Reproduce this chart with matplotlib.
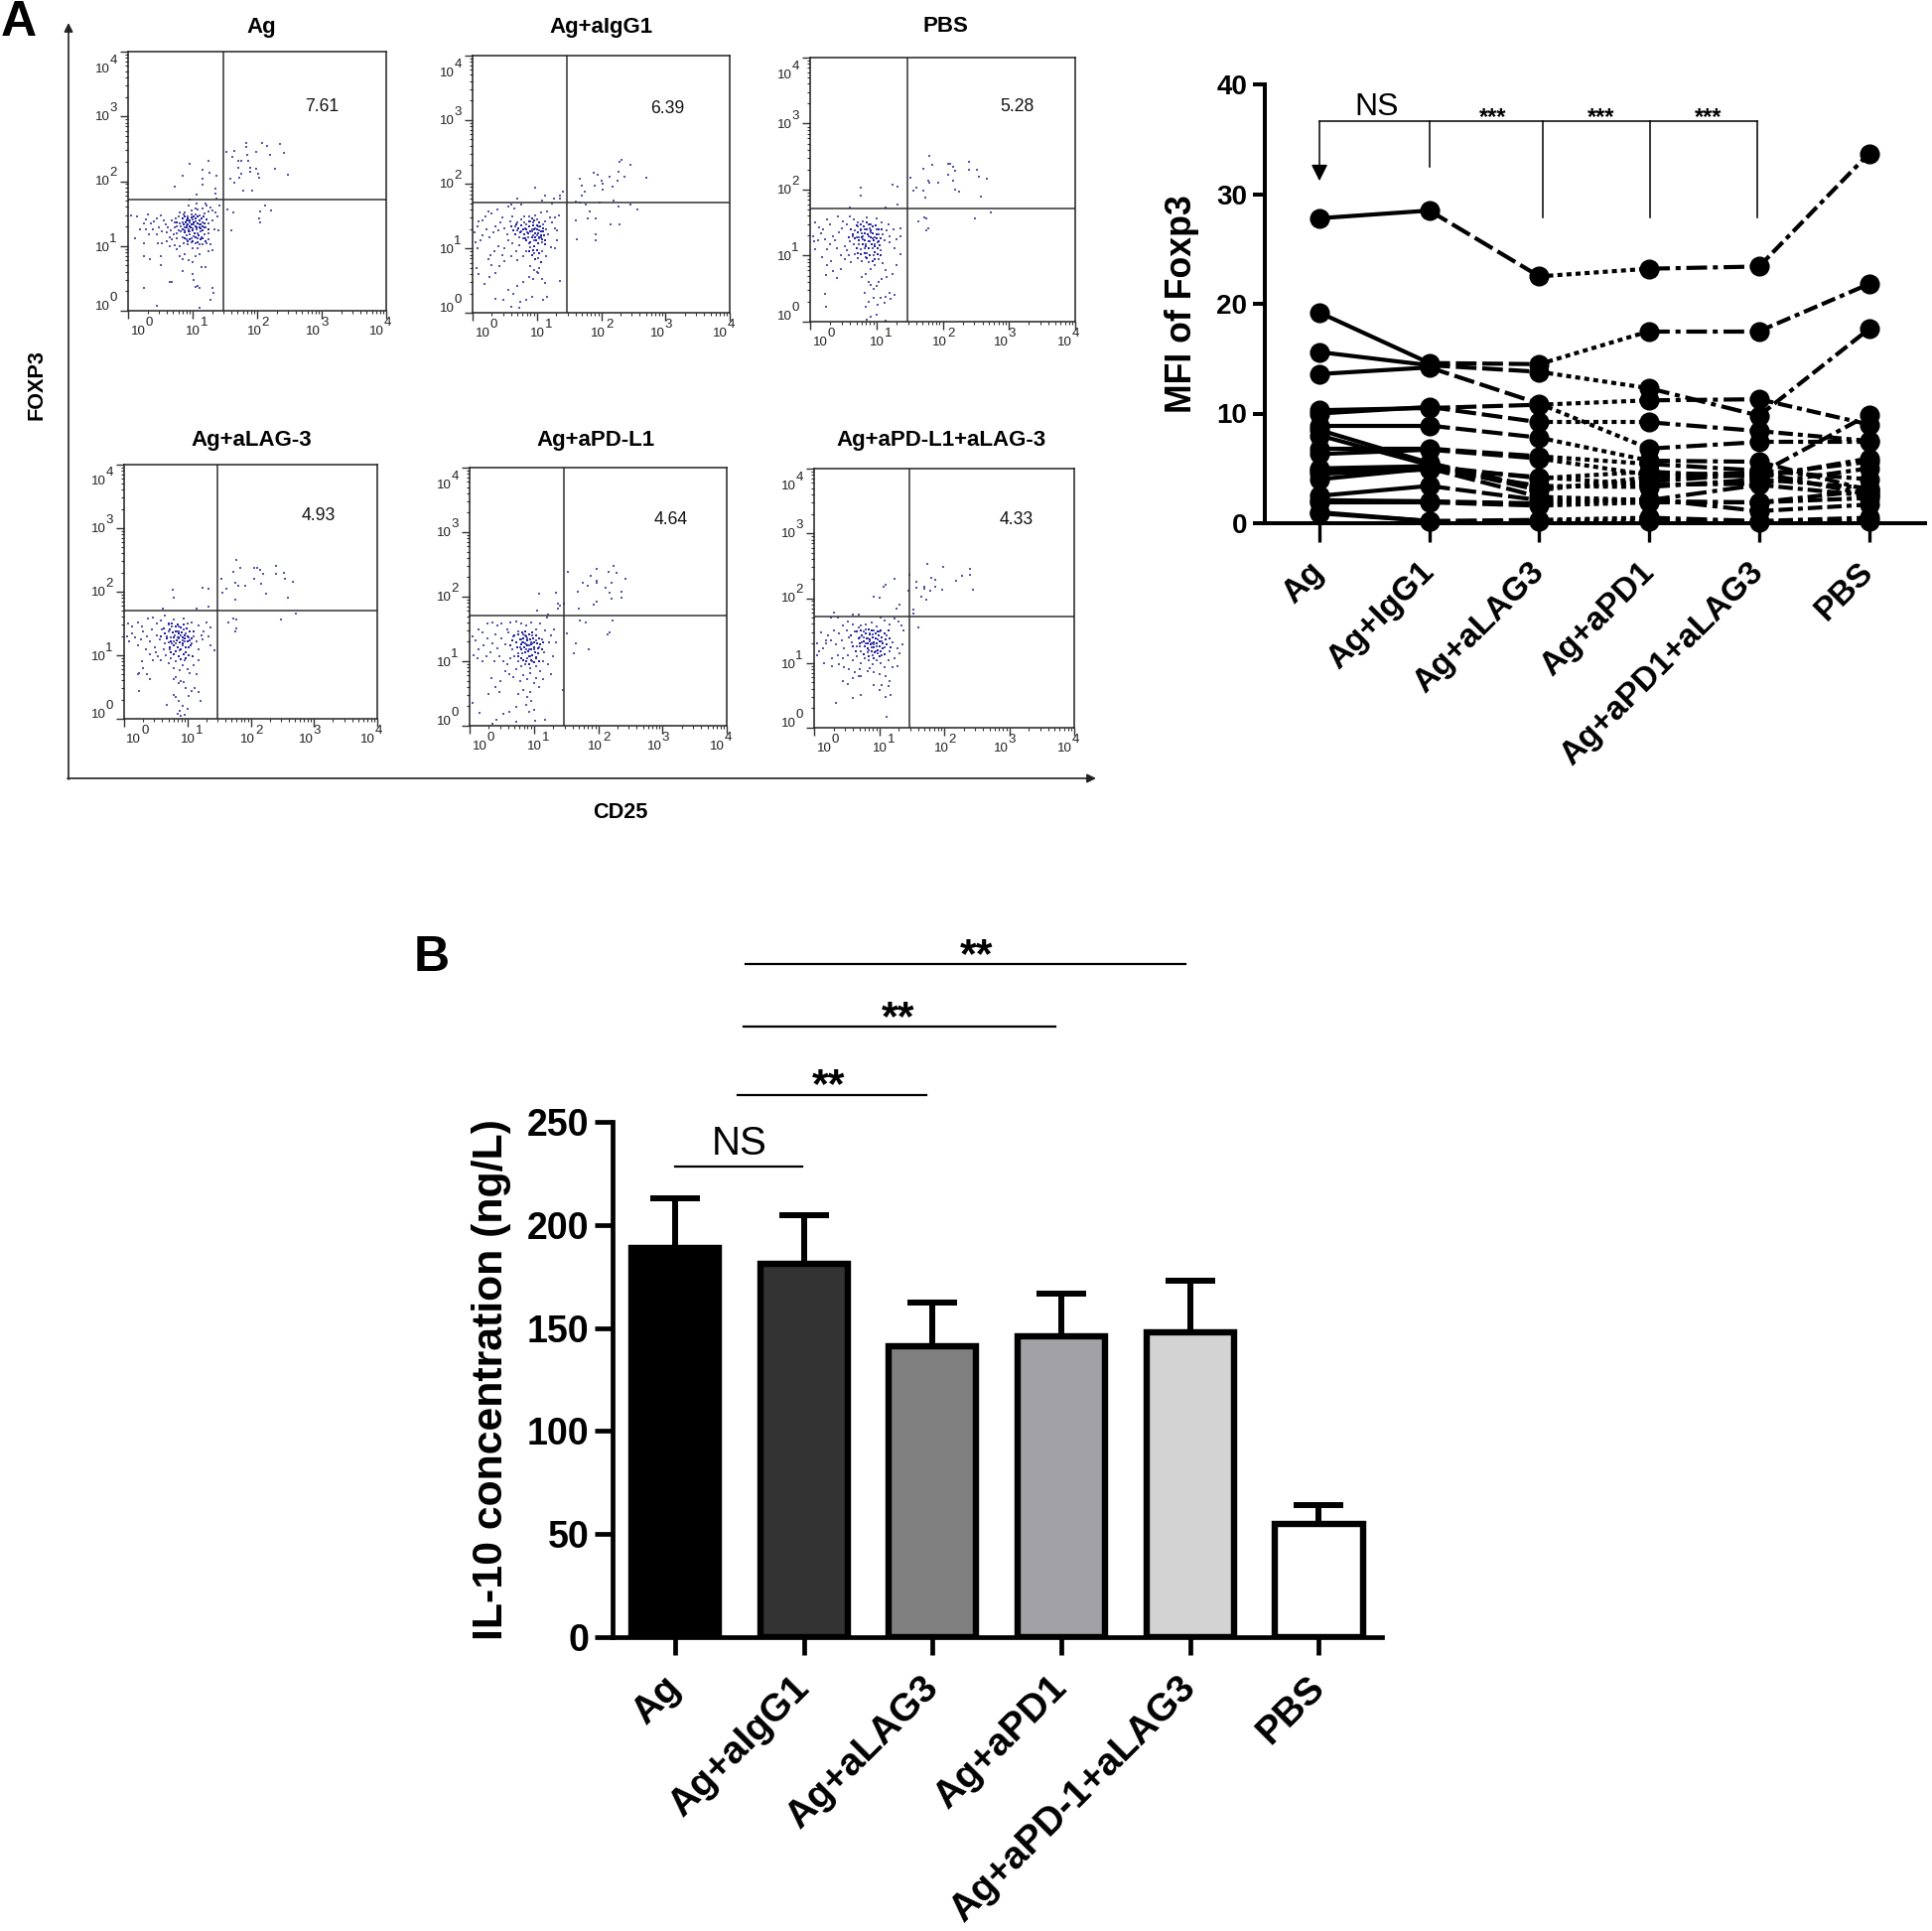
import numpy as np
import matplotlib
matplotlib.use('Agg')
import matplotlib.pyplot as plt
from matplotlib.ticker import LogLocator, NullFormatter
from matplotlib.transforms import ScaledTranslation

plt.rcParams['font.family'] = ['Liberation Sans', 'DejaVu Sans']

W, H = 1946, 1945

# --- panel A, flow plots: title, gate percentage, events as (log10 CD25, log10 FOXP3) * 100
flow_titles = ['Ag', 'Ag+aIgG1', 'PBS', 'Ag+aLAG-3', 'Ag+aPD-L1', 'Ag+aPD-L1+aLAG-3']
flow_percent = ['7.61', '6.39', '5.28', '4.93', '4.64', '4.33']
gate_x = 147
gate_y = 171

ag_points = [
    (153,245),(165,247),(183,259),(207,259),(235,257),(242,244),(216,254),(183,253),(199,245),(162,237),
    (184,240),(220,240),(171,232),(175,231),(186,231),(189,220),(199,219),(201,212),(189,214),(175,212),
    (171,221),(228,219),(248,210),(159,204),(173,205),(165,197),(179,186),(192,186),(203,205),
    (204,154),(213,162),(222,155),(203,143),(205,136),(160,124),(154,157),(163,152),
    (96,227),(125,231),(85,208),(115,218),(126,213),(137,208),(115,204),(115,194),(73,191),(106,180),(135,188),(135,181),(96,171),(137,173),
    (5,147),(14,145),(24,135),(27,141),(30,148),(35,135),(40,138),(44,143),(50,147),(55,139),(58,133),(62,128),
    (47,128),(38,125),(28,125),(18,125),(10,112),(32,118),(45,118),(52,122),(60,121),(66,124),(72,128),(76,131),
    (80,135),(85,137),(90,132),(95,136),(100,141),(105,138),(110,133),(115,137),(120,129),(125,135),(130,140),
    (68,140),(74,143),(78,146),(84,143),(92,146),(98,148),(104,149),(110,147),(118,150),(124,154),(130,155),
    (136,152),(80,152),(88,152),(98,155),(108,156),(116,158),(122,162),(128,160),(94,162),(106,165),(120,166),
    (138,146),(142,162),(64,114),(70,118),(76,120),(82,122),(88,124),(94,126),(100,127),(106,126),(112,122),
    (118,118),(124,120),(134,125),(140,124),(60,108),(68,110),(76,112),(84,113),(90,116),(96,118),(102,115),
    (108,112),(114,114),(124,110),(86,104),(92,102),(98,105),(104,104),(110,103),(116,102),(122,104),(128,103),
    (46,104),(52,104),(64,100),(72,101),(80,99),(100,96),(108,97),(124,92),(130,94),(25,104),(24,84),(34,80),
    (50,85),(51,70),(76,95),(80,85),(84,80),(88,88),(94,78),(100,75),(105,84),(110,88),(114,67),(120,67),(84,62),
    (68,45),(100,57),(102,48),(104,37),(110,35),(107,39),(65,44),(24,36),(44,8),(130,35),(132,28),(128,17),(111,4),
    (88,128),(92,140),(86,148),(102,134),(96,122),(82,130),(90,110),(98,112),(108,120),(78,124),(72,136),(104,158),
]
ag_core = [
    (84,142),(87,145),(90,139),(93,143),(96,140),(99,144),(102,146),(105,142),(108,145),(111,140),(114,143),(117,146),
    (86,133),(89,136),(92,134),(95,131),(98,134),(101,137),(104,131),(107,135),(110,129),(113,134),(116,131),(119,135),
    (85,126),(88,121),(91,128),(94,123),(97,129),(100,124),(103,119),(106,129),(109,117),(112,127),(115,124),(118,128),
    (88,112),(92,107),(96,110),(100,108),(104,113),(108,106),(112,110),(116,112),(120,107),(122,141),(124,126),(76,136),
]
igg_points = [
    (167,209),(170,198),(174,189),(188,218),(194,214),(190,198),(201,206),(203,200),(213,211),(203,192),(227,220),
    (225,206),(236,211),(232,238),(228,235),(245,230),(270,210),(217,196),(170,183),(160,173),(167,172),
    (176,168),(198,172),(219,175),(183,158),(179,147),(191,147),(215,138),(229,138),(227,165),(245,169),(257,160),
    (162,115),(191,122),(191,113),(160,144),
    (98,194),(70,177),(112,183),(126,177),(136,178),(141,189),(136,183),(60,169),(108,175),(124,170),
    (3,125),(8,135),(10,142),(15,143),(20,150),(24,158),(30,155),(38,160),(46,148),(55,165),(65,162),(75,168),
    (4,110),(8,100),(13,112),(16,120),(22,130),(26,118),(32,125),(36,135),(40,128),(44,140),(50,132),(54,122),
    (58,142),(62,150),(66,135),(70,128),(72,118),(76,145),(80,140),(82,132),(85,125),(88,150),(90,142),(92,130),
    (94,120),(96,112),(98,152),(100,145),(102,135),(104,128),(106,118),(108,110),(110,138),(114,130),(118,122),
    (120,148),(124,140),(128,132),(132,128),(134,152),(128,148),(116,158),(106,156),(78,116),(72,105),(68,96),
    (62,108),(56,112),(50,100),(46,90),(40,104),(34,96),(28,90),(24,84),(30,74),(36,62),(26,56),(42,72),(50,80),
    (60,88),(70,82),(78,88),(84,95),(90,102),(96,92),(102,85),(108,96),(114,88),(122,102),(128,100),(132,112),
    (90,72),(96,66),(100,64),(102,62),(104,70),(88,56),(94,52),(108,52),(112,47),(78,48),(70,42),(64,30),(56,36),
    (36,22),(48,20),(60,10),(72,8),(74,17),(84,20),(92,25),(110,20),(116,24),(136,50),(6,70),(10,60),(18,45),
    (86,118),(92,126),(98,132),(84,138),(100,120),(76,126),(88,108),(104,116),(94,140),(80,150),(70,140),(112,142),
]
igg_core = [
    (60,134),(64,128),(66,122),(68,138),(71,131),(74,125),(76,136),(78,129),(80,122),(82,116),(84,130),(86,124),
    (88,134),(90,126),(92,118),(94,136),(96,130),(97,124),(98,118),(99,112),(100,136),(101,130),(102,124),(103,118),
    (104,140),(105,134),(106,126),(107,120),(108,114),(109,132),(110,126),(111,120),(112,112),(113,106),(96,144),(92,146),
    (88,142),(84,112),(90,110),(96,104),(102,108),(100,98),(94,98),(104,92),(98,84),(106,78),(92,90),(88,96),
]
pbs_points = [
    (152,218),(180,251),(185,238),(171,231),(161,203),(156,198),(178,214),(180,210),(193,210),(171,198),(174,188),
    (208,239),(211,239),(216,235),(219,229),(208,222),(216,214),(218,200),(225,197),(240,242),(240,230),(252,230),
    (254,220),(266,216),(258,189),(164,152),(173,158),(176,157),(178,142),(176,138),(248,157),(272,166),
    (77,203),(77,191),(124,207),(132,204),(132,177),(114,173),(60,173),
    (8,150),(14,143),(20,140),(26,155),(30,147),(42,160),(50,152),(56,148),(60,160),(66,155),(72,150),(80,152),(86,158),
    (92,148),(100,156),(108,150),(118,148),(126,140),(136,142),(136,130),(130,125),(120,120),(128,112),(136,102),
    (4,130),(6,122),(8,110),(12,124),(16,134),(22,125),(26,110),(30,118),(34,130),(38,124),(44,136),(48,142),
    (52,115),(56,108),(60,122),(64,130),(68,138),(70,128),(72,145),(74,118),(76,110),(78,134),(80,125),(82,140),
    (84,118),(86,104),(88,130),(90,122),(92,135),(94,112),(96,100),(98,128),(100,140),(102,120),(106,108),(110,132),
    (112,124),(116,138),(120,130),(40,112),(46,100),(52,95),(58,100),(62,90),(68,102),(72,96),(78,92),(84,98),
    (88,90),(92,80),(98,86),(104,94),(110,88),(114,78),(116,68),(124,72),(130,85),(32,92),(26,86),(18,98),(24,70),
    (34,76),(40,66),(46,80),(84,72),(88,60),(92,55),(96,50),(100,54),(104,60),(108,65),(78,68),(82,44),(88,30),
    (84,22),(96,36),(106,36),(114,38),(122,34),(120,44),(128,40),(112,28),(102,25),(100,10),(92,8),(86,3),(114,2),
    (22,42),(24,22),(80,130),(90,142),(76,138),(94,126),(82,112),(98,118),(66,118),(74,128),(88,148),(104,132),
]
pbs_core = [
    (62,140),(65,132),(68,126),(70,146),(72,136),(74,124),(76,148),(77,140),(78,128),(79,118),(81,144),(82,134),
    (83,124),(84,114),(85,150),(86,140),(87,132),(88,122),(89,112),(90,148),(91,138),(92,128),(93,118),(94,144),
    (95,134),(96,124),(97,114),(98,106),(99,146),(100,132),(101,126),(102,112),(103,140),(104,122),(105,116),(106,100),
    (70,112),(72,104),(76,102),(82,104),(86,96),(90,100),(94,92),(98,94),(102,102),(106,126),(108,140),(58,128),
]
lag_points = [
    (154,220),(178,250),(184,237),(173,231),(161,204),(156,199),(176,214),(180,209),(192,209),(175,188),(206,238),
    (210,237),(215,234),(219,228),(206,221),(217,213),(224,197),(240,241),(240,228),(252,230),(254,220),(267,216),(259,190),
    (164,152),(173,158),(178,156),(178,142),(176,138),(248,156),(271,165),
    (77,203),(78,190),(124,207),(133,205),(133,177),(115,173),(61,174),
    (6,150),(12,145),(22,152),(28,146),(38,158),(46,160),(52,150),(58,155),(64,162),(70,148),(78,156),(86,146),
    (94,158),(100,150),(106,152),(118,147),(130,152),(136,144),(126,138),(134,130),(124,125),(136,115),(142,108),
    (4,130),(8,122),(12,135),(18,128),(22,115),(26,125),(30,138),(36,130),(40,122),(44,140),(48,112),(52,132),
    (56,125),(60,140),(64,118),(68,130),(70,138),(72,110),(74,128),(76,145),(78,122),(80,132),(82,118),(84,138),
    (86,126),(88,108),(90,132),(92,115),(94,140),(96,122),(98,135),(102,128),(106,118),(110,130),(114,122),(118,110),
    (122,132),(34,110),(40,102),(46,92),(50,105),(54,98),(58,92),(62,110),(66,100),(70,88),(74,96),(78,80),(82,90),
    (88,76),(92,84),(96,92),(100,78),(104,72),(110,85),(114,70),(118,92),(28,90),(24,72),(30,80),(36,70),(40,62),
    (78,62),(82,66),(86,56),(90,60),(94,58),(98,48),(102,36),(106,44),(112,48),(118,42),(120,28),(78,38),(82,34),
    (86,28),(92,20),(100,15),(88,12),(84,8),(90,5),(96,6),(68,22),(24,43),(22,70),(76,118),(84,128),(92,124),(70,120),(86,138),
]
lag_core = [
    (62,142),(65,135),(68,126),(70,150),(72,140),(74,122),(76,150),(77,136),(78,128),(79,116),(81,146),(82,138),
    (83,124),(84,112),(85,148),(86,134),(87,128),(88,120),(89,110),(90,144),(91,136),(92,128),(93,118),(94,148),
    (95,132),(96,126),(97,112),(98,104),(99,142),(100,130),(101,122),(102,112),(103,138),(104,124),(105,116),(108,98),
    (72,112),(74,104),(78,102),(82,106),(86,98),(90,94),(94,102),(98,96),(102,100),(106,126),(110,138),(58,130),
]
pdl1_points = [
    (153,238),(188,233),(197,243),(176,222),(184,217),(169,207),(198,224),(198,222),(212,214),(216,239),(224,248),(228,237),
    (221,222),(217,206),(221,197),(236,207),(236,198),(243,228),(193,188),(198,192),(170,182),
    (172,163),(181,160),(222,163),(217,144),(215,141),(152,143),(166,127),(162,113),(186,119),(145,56),
    (108,205),(134,206),(138,190),(140,186),(138,181),(147,190),(105,179),(122,173),(121,168),
    (14,150),(20,145),(28,158),(36,160),(44,155),(50,158),(58,150),(64,160),(72,162),(80,158),(88,155),(96,160),(104,150),
    (110,158),(118,148),(126,140),(132,150),(134,130),(124,130),(4,138),(10,132),(14,118),(22,125),(28,135),(36,128),
    (40,142),(44,120),(50,136),(56,126),(60,144),(66,118),(68,138),(72,130),(76,146),(78,122),(80,134),(82,112),
    (84,142),(86,128),(88,118),(90,136),(92,124),(94,108),(96,130),(98,140),(100,118),(104,132),(108,122),(112,134),
    (116,114),(6,110),(12,104),(20,100),(26,108),(32,114),(38,100),(46,108),(52,100),(58,96),(64,104),(70,108),
    (76,100),(80,92),(86,96),(90,104),(94,90),(98,100),(104,92),(110,84),(114,100),(122,95),(126,80),(130,108),
    (56,85),(62,80),(68,76),(72,88),(78,70),(84,78),(90,72),(94,82),(100,66),(104,74),(108,60),(114,72),(48,70),
    (40,60),(46,52),(34,74),(30,50),(76,50),(84,56),(90,45),(94,52),(96,38),(88,32),(92,22),(72,30),(62,22),(52,18),
    (42,10),(36,3),(4,36),(16,20),(72,6),(100,25),(102,8),(118,10),(88,126),(82,130),(92,118),(76,112),(98,128),(86,140),
]
pdl1_core = [
    (70,140),(72,130),(74,122),(76,142),(78,134),(80,126),(81,118),(82,144),(83,136),(84,130),(85,122),(86,114),
    (87,146),(88,138),(89,132),(90,124),(91,116),(92,108),(93,142),(94,134),(95,126),(96,118),(97,110),(98,144),
    (99,136),(100,130),(101,122),(102,114),(103,106),(104,140),(105,128),(106,120),(107,112),(108,136),(110,126),(112,118),
    (76,108),(80,104),(84,102),(88,100),(92,96),(96,102),(100,98),(104,104),(108,100),(66,132),(64,124),(114,130),
]
both_points = [
    (174,253),(199,248),(180,231),(187,229),(157,225),(157,216),(169,218),(169,215),(179,211),(187,217),(197,213),(218,227),
    (228,235),(239,245),(239,236),(244,213),(165,203),(173,197),
    (124,230),(110,220),(107,217),(91,203),(101,201),(145,211),(146,236),(131,190),(127,184),(152,182),(152,176),(161,155),
    (10,147),(18,135),(26,170),(30,178),(36,170),(44,158),(52,164),(60,174),(68,174),(60,160),(72,158),(80,160),(88,162),(96,156),
    (102,170),(108,166),(116,160),(124,168),(130,164),(134,158),(138,150),(4,130),(8,118),(14,122),(18,130),(22,142),(26,135),
    (30,150),(34,128),(38,145),(42,135),(46,122),(50,150),(54,140),(58,132),(62,148),(66,125),(68,155),(70,140),(72,118),
    (74,132),(76,148),(78,125),(80,152),(82,138),(84,120),(86,145),(88,130),(90,112),(92,150),(94,138),(96,125),(98,115),
    (100,148),(104,134),(108,124),(112,142),(116,118),(120,132),(124,108),(128,122),(132,115),(136,128),(28,108),(36,112),
    (44,108),(52,112),(60,104),(66,110),(72,100),(78,108),(84,104),(90,98),(96,104),(102,100),(108,94),(114,104),(120,94),
    (4,112),(16,100),(28,95),(38,98),(46,94),(54,90),(62,86),(68,80),(70,90),(44,72),(52,68),(60,76),(82,88),(86,92),
    (92,86),(100,82),(110,80),(116,72),(128,95),(100,58),(104,66),(92,66),(114,64),(118,50),(110,48),(72,50),(60,46),(34,38),(72,80),
    (111,17),(88,124),(94,118),(80,130),(86,134),(76,140),(92,128),(98,136),(70,126),(82,116),(104,112),(90,144),
]
both_core = [
    (66,148),(68,138),(70,130),(72,150),(74,142),(76,134),(78,126),(80,146),(81,138),(82,130),(83,122),(84,152),
    (85,144),(86,136),(87,128),(88,118),(89,150),(90,140),(91,132),(92,124),(93,116),(94,146),(95,138),(96,130),
    (97,120),(98,148),(99,142),(100,134),(101,126),(102,118),(103,150),(104,140),(105,130),(106,122),(108,146),(110,136),
    (112,128),(114,150),(116,138),(118,124),(56,142),(60,126),(64,118),(76,114),(84,110),(92,108),(100,110),(108,114),
]
flow_points = [ag_points, igg_points, pbs_points, lag_points, pdl1_points, both_points]
flow_core = [ag_core, igg_core, pbs_core, lag_core, pdl1_core, both_core]
flow_ticks = [0, 1, 2, 3, 4]

# --- panel A right, MFI of Foxp3, one row per donor
mfi_groups = ['Ag', 'Ag+IgG1', 'Ag+aLAG3', 'Ag+aPD1', 'Ag+aPD1+aLAG3', 'PBS']
mfi_values = [
    [27.8, 28.5, 22.5, 23.2, 23.4, 33.7],
    [19.2, 14.6, 14.5, 17.5, 17.5, 21.8],
    [15.6, 14.4, 13.8, 12.3, 9.8, 17.7],
    [13.6, 14.2, 10.9, 6.8, 7.4, 7.4],
    [10.3, 10.5, 10.8, 11.2, 11.3, 9.0],
    [10.0, 10.6, 9.2, 9.2, 8.4, 7.5],
    [8.9, 8.9, 7.8, 5.7, 5.6, 3.0],
    [8.5, 5.5, 3.2, 3.8, 4.5, 9.9],
    [8.0, 5.3, 3.0, 4.2, 4.4, 5.6],
    [6.8, 6.8, 6.1, 5.4, 4.8, 4.0],
    [6.3, 6.7, 5.9, 4.4, 4.6, 2.6],
    [5.0, 5.2, 4.1, 4.7, 4.2, 5.9],
    [4.8, 5.0, 2.4, 2.1, 3.5, 2.5],
    [4.0, 5.0, 4.2, 3.5, 3.6, 5.0],
    [4.5, 4.9, 3.4, 3.3, 4.0, 3.2],
    [2.5, 3.4, 2.1, 2.0, 1.9, 3.0],
    [2.1, 2.0, 1.8, 2.2, 1.1, 1.7],
    [1.9, 1.9, 1.6, 1.9, 1.9, 2.3],
    [1.0, 0.2, 0.3, 0.5, 0.2, 0.5],
    [0.9, 0.2, 0.2, 0.2, 0.1, 0.2],
]
mfi_ticks = [0, 10, 20, 30, 40]

# --- panel B
il10_groups = ['Ag', 'Ag+aIgG1', 'Ag+aLAG3', 'Ag+aPD1', 'Ag+aPD-1+aLAG3', 'PBS']
il10_mean = [189, 181, 141, 146, 148, 55]
il10_err = [24, 23.5, 21.5, 20.5, 25, 9]
il10_colors = ['#000000', '#333333', '#808080', '#a1a1a6', '#d3d3d3', '#ffffff']
il10_ticks = [0, 50, 100, 150, 200, 250]

fig = plt.figure(figsize=(W / 100, H / 100), dpi=100)


def new_axes(left, right, top, bottom):
    return fig.add_axes([left / W, 1 - bottom / H, (right - left) / W, (bottom - top) / H])


def fig_text(x, y, s, **kw):
    fig.text(x / W, 1 - y / H, s, ha=kw.pop('ha', 'center'), va=kw.pop('va', 'center'), **kw)


# flow plots, box edges in pixels
flow_boxes = [(129, 389, 52, 313), (476, 735, 56, 315), (816, 1083, 58, 324),
              (125, 380, 468, 724), (473, 732, 471, 731), (820, 1082, 472, 733)]
title_pos = [(263, 28), (605, 27), (952, 27), (253, 444), (600, 444), (948, 444)]
pct_pos = [(324, 108), (672, 110), (1024, 108), (321, 520), (676, 523), (1024, 523)]
lab_x = [0.054, 0.268, 0.504, 0.734, 0.977]
lab_y = [0.017, 0.243, 0.497, 0.746, 0.932]

for i, box in enumerate(flow_boxes):
    ax = new_axes(*box)
    pts = np.array(flow_points[i]) / 100
    core = np.array(flow_core[i]) / 100
    ax.scatter(10 ** pts[:, 0], 10 ** pts[:, 1], s=1.8, marker='s', color='#5656ac', linewidths=0)
    ax.scatter(10 ** core[:, 0], 10 ** core[:, 1], s=2.4, marker='s', color='#2424a6', linewidths=0)
    ax.set_xscale('log')
    ax.set_yscale('log')
    ax.set_xlim(1, 1e4)
    ax.set_ylim(1, 1e4)
    ax.axvline(10 ** (gate_x / 100), color='#333333', lw=1.1)
    ax.axhline(10 ** (gate_y / 100), color='#333333', lw=1.1)
    for sp in ax.spines.values():
        sp.set_linewidth(1.1)
        sp.set_color('#222222')
    for axis in (ax.xaxis, ax.yaxis):
        axis.set_major_locator(LogLocator(base=10, numticks=6))
        axis.set_minor_locator(LogLocator(base=10, subs=range(2, 10), numticks=6))
        axis.set_minor_formatter(NullFormatter())
    ax.tick_params(which='major', length=5.5, width=1, color='#333333', labelbottom=False, labelleft=False)
    ax.tick_params(which='minor', length=2.5, width=0.8, color='#333333')
    w = box[1] - box[0]
    h = box[3] - box[2]
    for t, fx, fy in zip(flow_ticks, lab_x, lab_y):
        # decade labels sit off their ticks in the original
        px = box[0] + fx * w
        fig_text(px - 4, box[3] + 21, '10', fontsize=9.5, color='#222222')
        fig_text(px + 7, box[3] + 12, str(t), fontsize=9.5, color='#222222')
        py = box[3] - fy * h
        fig_text(box[0] - 26, py, '10', fontsize=9.5, color='#222222')
        fig_text(box[0] - 15, py - 9, str(t), fontsize=9.5, color='#222222')
    fig_text(*title_pos[i], flow_titles[i], fontsize=16, fontweight='bold')
    fig_text(*pct_pos[i], flow_percent[i], fontsize=12.7, color='#111111')

# big axis arrows round the flow plots
overlay = fig.add_axes([0, 0, 1, 1], facecolor='none')
overlay.set_xlim(0, W)
overlay.set_ylim(H, 0)
overlay.axis('off')
arrow_kw = dict(arrowstyle='-|>', mutation_scale=13, shrinkA=0, shrinkB=0, color='#222222', lw=1.2)
overlay.annotate('', xy=(69, 23), xytext=(69, 785), arrowprops=arrow_kw)
overlay.annotate('', xy=(1104, 784), xytext=(68, 784), arrowprops=arrow_kw)
fig_text(37, 388, 'FOXP3', rotation=90, fontsize=15.6, fontweight='bold')
fig_text(625, 819, 'CD25', fontsize=15.6, fontweight='bold')
fig_text(19, 23, 'A', fontsize=36, fontweight='bold')
fig_text(435, 965, 'B', fontsize=36, fontweight='bold')

# MFI paired plot
ax = new_axes(1274, 1939, 85, 527)
seg_styles = ['-', (0, (5, 1.4)), (0, (1.2, 1)), (0, (5, 1.4, 1.2, 1.4)), (0, (3.5, 1.2, 3.5, 1.2, 1.2, 1.2))]
xs = np.arange(len(mfi_groups))
for row in mfi_values:
    for k, style in enumerate(seg_styles):
        ax.plot(xs[k:k + 2], row[k:k + 2], color='black', lw=3, ls=style, clip_on=False, zorder=2)
    ax.plot(xs, row, ls='none', marker='o', ms=13.5, color='black', clip_on=False, zorder=3)
ax.set_xlim(-0.497, 5.51)
ax.set_ylim(0, 40)
ax.set_yticks(mfi_ticks)
ax.set_xticks(xs)
ax.set_xticklabels(mfi_groups, rotation=45, ha='right', va='center', rotation_mode='anchor',
                   fontsize=24, fontweight='bold')
shift = ScaledTranslation(6 / 100, 0, fig.dpi_scale_trans)
for lab in ax.get_xticklabels():
    lab.set_transform(lab.get_transform() + shift)
for lab in ax.get_yticklabels():
    lab.set_fontsize(20)
    lab.set_fontweight('bold')
ax.tick_params(axis='y', length=8.6, width=2.9, pad=4)
ax.tick_params(axis='x', length=14, width=2.4, pad=18)
for side in ('top', 'right'):
    ax.spines[side].set_visible(False)
for side in ('left', 'bottom'):
    ax.spines[side].set_linewidth(2.9)
fig_text(1191, 306, 'MFI of Foxp3', rotation=90, fontsize=25.7, fontweight='bold')

# comparison bracket
bracket_y = 36.65
ax.plot([0, 3.98], [bracket_y, bracket_y], color='black', lw=1.1)
ax.annotate('', xy=(0, 31.2), xytext=(0, bracket_y),
            arrowprops=dict(arrowstyle='-|>', mutation_scale=25, shrinkA=0, shrinkB=0, color='black', lw=1.1))
ax.plot([1, 1], [bracket_y, 32.5], color='black', lw=1.1)
for x0 in (2.03, 3.01, 3.98):
    ax.plot([x0, x0], [bracket_y, 27.9], color='black', lw=1.1)
ax.text(0.52, 37.9, 'NS', ha='center', va='center', fontsize=23)
for x0 in (1.58, 2.56, 3.54):
    ax.text(x0, 37.0, '***', ha='center', va='center', fontsize=17, fontweight='bold')

# IL-10 bars
ax = new_axes(617, 1392, 1130, 1649)
xs = np.arange(len(il10_groups))
ax.bar(xs, il10_mean, width=0.68, color=il10_colors, edgecolor='black', linewidth=4.6, zorder=3)
ax.errorbar(xs, il10_mean, yerr=[np.zeros(len(xs)), il10_err], fmt='none', ecolor='black',
            elinewidth=4.3, capsize=18, capthick=4.3, zorder=2)
ax.set_xlim(-0.485, 5.49)
ax.set_ylim(0, 250)
ax.set_yticks(il10_ticks)
ax.set_xticks(xs)
ax.set_xticklabels(il10_groups, rotation=45, ha='right', va='center', rotation_mode='anchor',
                   fontsize=28, fontweight='bold')
shift = ScaledTranslation(7 / 100, 0, fig.dpi_scale_trans)
for lab in ax.get_xticklabels():
    lab.set_transform(lab.get_transform() + shift)
for lab in ax.get_yticklabels():
    lab.set_fontsize(27)
    lab.set_fontweight('bold')
ax.tick_params(axis='y', length=13, width=3.4, pad=4)
ax.tick_params(axis='x', length=13, width=3.4, pad=20)
for side in ('top', 'right'):
    ax.spines[side].set_visible(False)
for side in ('left', 'bottom'):
    ax.spines[side].set_linewidth(3.4)
fig_text(495, 1390, 'IL-10 concentration (ng/L)', rotation=90, fontsize=30.8, fontweight='bold')

# significance lines above the bars
sig_lines = [(0, 0.985, 228.4), (0.49, 1.95, 263.2), (0.53, 2.95, 296.2), (0.55, 3.96, 326.5)]
sig_text = ['NS', '**', '**', '**']
sig_text_x = [0.5, 1.19, 1.73, 2.34]
for (x0, x1, y0), s, tx in zip(sig_lines, sig_text, sig_text_x):
    ax.plot([x0, x1], [y0, y0], color='black', lw=1.6, clip_on=False)
    if s == 'NS':
        ax.text(tx, y0 + 11, s, ha='center', va='center', fontsize=29)
    else:
        ax.text(tx, y0 + 4, s, ha='center', va='center', fontsize=31, fontweight='bold')

fig.savefig('out.png', dpi=100, facecolor='white')
